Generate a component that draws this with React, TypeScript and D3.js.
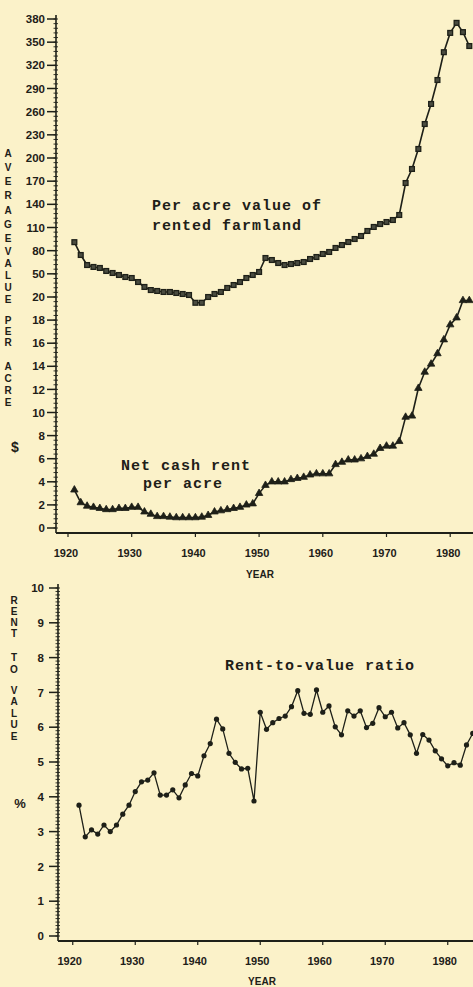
import { useEffect, useRef } from 'react';
import * as d3 from 'd3';

const W = 473;
const H = 987;

// top panel: per acre value of rented farmland and net cash rent, 1921-1983
const yearsTop = d3.range(1921, 1984);
const valuePerAcre = [
  91, 74.4, 61.4, 58.9, 57.6, 53.7, 51.1, 48.5, 45.9, 44.6,
  39.4, 33, 29, 27.8, 26.5, 26.5, 25.2, 23.9, 22.6, 19.5,
  19.5, 20, 23.9, 26.5, 31.7, 35.5, 39.4, 44.6, 48.5, 52.4,
  70.5, 67.9, 64, 61.4, 62.7, 64, 65.3, 69.2, 71.8, 75.7,
  78.3, 83.5, 87.3, 91.2, 95.1, 99, 105.5, 110.7, 114.5, 117.1,
  119.7, 126.2, 167.6, 185.8, 211.7, 244, 270, 301, 337, 362,
  375, 363, 345
];
const rentPerAcre = [
  3.3, 2.2, 1.9, 1.8, 1.7, 1.6, 1.6, 1.7, 1.7, 1.8,
  1.8, 1.4, 1.2, 1.0, 1.0, 0.95, 0.9, 0.9, 0.9, 0.9,
  0.95, 1.1, 1.4, 1.5, 1.6, 1.7, 1.8, 2.0, 2.1, 3.0,
  3.7, 4.0, 4.0, 4.0, 4.2, 4.3, 4.4, 4.6, 4.7, 4.7,
  4.7, 5.5, 5.7, 5.9, 5.9, 6.0, 6.2, 6.4, 6.9, 7.1,
  7.1, 7.5, 9.6, 9.7, 12.1, 13.5, 14.2, 15.1, 16.3, 17.6,
  18.2, 19.7, 19.7
];

// bottom panel: rent-to-value ratio (%), 1921-1984
const yearsRatio = d3.range(1921, 1985);
const rentToValue = [
  3.76, 2.85, 3.05, 2.93, 3.19, 3.0, 3.19, 3.5, 3.76, 4.15,
  4.43, 4.48, 4.69, 4.05, 4.05, 4.2, 3.97, 4.34, 4.67, 4.6,
  5.18, 5.53, 6.23, 5.95, 5.25, 4.99, 4.8, 4.82, 3.88, 6.43,
  5.94, 6.13, 6.25, 6.32, 6.59, 7.05, 6.4, 6.37, 7.07, 6.43,
  6.61, 6.01, 5.78, 6.47, 6.32, 6.47, 5.99, 6.11, 6.56, 6.3,
  6.43, 5.98, 6.13, 5.78, 5.25, 5.79, 5.63, 5.32, 5.09, 4.89,
  4.98, 4.91, 5.49, 5.82
];

const decadeTicks = [1920, 1930, 1940, 1950, 1960, 1970, 1980];
const rentTicks = [0, 2, 4, 6, 8, 10, 12, 14, 16, 18];
const valueTicks = [20, 50, 80, 110, 140, 170, 200, 230, 260, 290, 320, 350, 380];
const ratioTicks = [0, 1, 2, 3, 4, 5, 6, 7, 8, 9, 10];

const ink = '#1e2018';
const paper = '#fbf2c9';
const tickFont = '"Liberation Sans", Arial, sans-serif';
const typeFont = '"Liberation Mono", "DejaVu Sans Mono", monospace';

export default function App() {
  const ref = useRef<SVGSVGElement | null>(null);

  useEffect(() => {
    const node = ref.current;
    if (!node) return;
    const svg = d3.select(node);
    svg.selectAll('*').remove();

    svg.append('rect').attr('width', W).attr('height', H).attr('fill', paper);

    // axis titles are printed one upright letter under the other
    const stack = (g: any, word: string, x: number, y0: number, step: number, size = 10) => {
      word.split('').forEach((ch, i) => {
        g.append('text')
          .attr('x', x)
          .attr('y', y0 + i * step)
          .attr('dy', '0.35em')
          .attr('text-anchor', 'middle')
          .attr('font-family', tickFont)
          .attr('font-weight', 700)
          .attr('font-size', size)
          .attr('fill', ink)
          .text(ch);
      });
    };

    const label = (txt: string, x: number, y: number) =>
      svg.append('text')
        .attr('x', x)
        .attr('y', y)
        .attr('font-family', typeFont)
        .attr('font-weight', 700)
        .attr('font-size', 15)
        .attr('letter-spacing', 1)
        .attr('fill', ink)
        .text(txt);

    // ---------- top panel ----------
    const top = svg.append('g');
    const xTop = d3.scaleLinear().domain([1920, 1980]).range([68, 68 + 60 * 6.37]);
    const yTop = d3.scaleLinear().domain([0, 20, 380]).range([528, 297, 19]);
    const axTopX = 56;
    const axTopY = 533;

    top.append('line')
      .attr('x1', axTopX).attr('x2', axTopX).attr('y1', 15).attr('y2', axTopY)
      .attr('stroke', ink).attr('stroke-width', 1.6);

    const minorTop = d3.range(0, 20, 0.4).concat(d3.range(20, 380.1, 6));
    top.selectAll('.mt').data(minorTop).join('line')
      .attr('x1', axTopX - 2.5).attr('x2', axTopX + 2)
      .attr('y1', (d) => yTop(d)).attr('y2', (d) => yTop(d))
      .attr('stroke', ink).attr('stroke-width', 0.9);

    const majorTop = rentTicks.concat(valueTicks);
    top.selectAll('.Mt').data(majorTop).join('line')
      .attr('x1', axTopX - 9).attr('x2', axTopX)
      .attr('y1', (d) => yTop(d)).attr('y2', (d) => yTop(d))
      .attr('stroke', ink).attr('stroke-width', 1.5);
    top.selectAll('.lt').data(majorTop).join('text')
      .attr('x', 45).attr('y', (d) => yTop(d)).attr('dy', '0.36em')
      .attr('text-anchor', 'end')
      .attr('font-family', tickFont).attr('font-weight', 700).attr('font-size', 11.5)
      .attr('fill', ink)
      .text((d) => String(d));

    top.append('line')
      .attr('x1', axTopX).attr('x2', W + 5).attr('y1', axTopY).attr('y2', axTopY)
      .attr('stroke', ink).attr('stroke-width', 2.2);
    top.selectAll('.xt').data(decadeTicks).join('line')
      .attr('x1', (d) => xTop(d)).attr('x2', (d) => xTop(d))
      .attr('y1', axTopY).attr('y2', axTopY + 4)
      .attr('stroke', ink).attr('stroke-width', 1.2);
    top.selectAll('.xl').data(decadeTicks).join('text')
      .attr('x', (d) => xTop(d) - 2).attr('y', 557)
      .attr('text-anchor', 'middle')
      .attr('font-family', tickFont).attr('font-weight', 700).attr('font-size', 11)
      .attr('fill', ink)
      .text((d) => String(d));
    top.append('text')
      .attr('x', 260).attr('y', 578).attr('text-anchor', 'middle')
      .attr('font-family', tickFont).attr('font-weight', 700).attr('font-size', 10)
      .attr('fill', ink).text('YEAR');

    stack(top, 'AVERAGE', 8, 153, 14.3);
    stack(top, 'VALUE', 8, 251, 12.2);
    stack(top, 'PER', 8, 320, 11);
    stack(top, 'ACRE', 8, 366, 12);
    top.append('text')
      .attr('x', 15).attr('y', 447).attr('dy', '0.35em').attr('text-anchor', 'middle')
      .attr('font-family', tickFont).attr('font-weight', 700).attr('font-size', 14)
      .attr('fill', ink).text('$');

    const valuePts = yearsTop.map((yr, i) => [xTop(yr), yTop(valuePerAcre[i])] as [number, number]);
    const rentPts = yearsTop.map((yr, i) => [xTop(yr), yTop(rentPerAcre[i])] as [number, number]);
    const line = d3.line();

    top.append('path').attr('d', line(valuePts))
      .attr('fill', 'none').attr('stroke', ink).attr('stroke-width', 1.6);
    top.selectAll('.vm').data(valuePts).join('rect')
      .attr('x', (d) => d[0] - 2.4).attr('y', (d) => d[1] - 2.4)
      .attr('width', 4.8).attr('height', 4.8)
      .attr('fill', '#4a4c40').attr('stroke', ink).attr('stroke-width', 1.3);

    top.append('path').attr('d', line(rentPts))
      .attr('fill', 'none').attr('stroke', ink).attr('stroke-width', 1.6);
    const tri = d3.symbol(d3.symbolTriangle, 24);
    top.selectAll('.rm').data(rentPts).join('path')
      .attr('d', tri())
      .attr('transform', (d) => `translate(${d[0]},${d[1]})`)
      .attr('fill', ink).attr('stroke', ink).attr('stroke-width', 0.8);

    label('Per acre value of', 152, 210);
    label('rented farmland', 152, 230);
    label('Net cash rent', 121, 470);
    label('per acre', 143, 488);

    // ---------- bottom panel ----------
    const bot = svg.append('g');
    const xBot = d3.scaleLinear().domain([1920, 1980]).range([72.75, 72.75 + 60 * 6.25]);
    const yBot = d3.scaleLinear().domain([0, 10]).range([936, 588]);
    const axBotX = 58;
    const axBotY = 941;

    bot.append('line')
      .attr('x1', axBotX).attr('x2', axBotX).attr('y1', 584).attr('y2', axBotY)
      .attr('stroke', ink).attr('stroke-width', 1.6);
    bot.selectAll('.mb').data(d3.range(0, 10.01, 0.1)).join('line')
      .attr('x1', axBotX - 2.5).attr('x2', axBotX + 2)
      .attr('y1', (d) => yBot(d)).attr('y2', (d) => yBot(d))
      .attr('stroke', ink).attr('stroke-width', 0.9);
    bot.selectAll('.Mb').data(ratioTicks).join('line')
      .attr('x1', axBotX - 9).attr('x2', axBotX)
      .attr('y1', (d) => yBot(d)).attr('y2', (d) => yBot(d))
      .attr('stroke', ink).attr('stroke-width', 1.5);
    bot.selectAll('.lb').data(ratioTicks).join('text')
      .attr('x', 44).attr('y', (d) => yBot(d)).attr('dy', '0.36em')
      .attr('text-anchor', 'end')
      .attr('font-family', tickFont).attr('font-weight', 700).attr('font-size', 11.5)
      .attr('fill', ink)
      .text((d) => String(d));

    bot.append('line')
      .attr('x1', axBotX).attr('x2', W + 5).attr('y1', axBotY).attr('y2', axBotY)
      .attr('stroke', ink).attr('stroke-width', 2.2);
    bot.selectAll('.xb').data(decadeTicks).join('line')
      .attr('x1', (d) => xBot(d)).attr('x2', (d) => xBot(d))
      .attr('y1', axBotY).attr('y2', axBotY + 4)
      .attr('stroke', ink).attr('stroke-width', 1.2);
    bot.selectAll('.xbl').data(decadeTicks).join('text')
      .attr('x', (d) => xBot(d) - 3).attr('y', 965)
      .attr('text-anchor', 'middle')
      .attr('font-family', tickFont).attr('font-weight', 700).attr('font-size', 11)
      .attr('fill', ink)
      .text((d) => String(d));
    bot.append('text')
      .attr('x', 262).attr('y', 985).attr('text-anchor', 'middle')
      .attr('font-family', tickFont).attr('font-weight', 700).attr('font-size', 10)
      .attr('fill', ink).text('YEAR');

    stack(bot, 'RENT', 14, 600, 11);
    stack(bot, 'TO', 14, 657, 12);
    stack(bot, 'VALUE', 14, 690, 11.5);
    bot.append('text')
      .attr('x', 20).attr('y', 803).attr('dy', '0.35em').attr('text-anchor', 'middle')
      .attr('font-family', tickFont).attr('font-weight', 700).attr('font-size', 13)
      .attr('fill', ink).text('%');

    const ratioPts = yearsRatio.map((yr, i) => [xBot(yr), yBot(rentToValue[i])] as [number, number]);
    bot.append('path').attr('d', line(ratioPts))
      .attr('fill', 'none').attr('stroke', ink).attr('stroke-width', 1.3);
    bot.selectAll('.pm').data(ratioPts).join('circle')
      .attr('cx', (d) => d[0]).attr('cy', (d) => d[1]).attr('r', 2.6)
      .attr('fill', ink);

    label('Rent-to-value ratio', 225, 670);
  }, []);

  return (
    <div style={{ position: 'absolute', left: 0, top: 0, width: W, height: H, overflow: 'hidden' }}>
      <svg ref={ref} width={W} height={H} viewBox={`0 0 ${W} ${H}`} style={{ display: 'block' }} />
    </div>
  );
}
